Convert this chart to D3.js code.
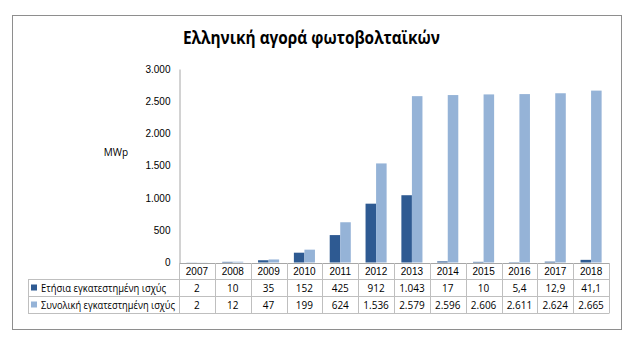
<!DOCTYPE html>
<html><head><meta charset="utf-8">
<script src="https://cdn.jsdelivr.net/npm/d3@7"></script>
<style>
html,body{margin:0;padding:0;background:#fff;}
svg{display:block;font-family:"Open Sans","Noto Sans",sans-serif;}
</style></head>
<body><svg id="c" width="634" height="337"></svg>
<script>
const title = "Ελληνική αγορά φωτοβολταϊκών";
const yAxisLabel = "MWp";
const years = ["2007","2008","2009","2010","2011","2012","2013","2014","2015","2016","2017","2018"];
const seriesNames = ["Ετήσια εγκατεστημένη ισχύς", "Συνολική εγκατεστημένη ισχύς"];
const annual = [2, 10, 35, 152, 425, 912, 1043, 17, 10, 5.4, 12.9, 41.1];
const cumulative = [2, 12, 47, 199, 624, 1536, 2579, 2596, 2606, 2611, 2624, 2665];
const yTicks = [0, 500, 1000, 1500, 2000, 2500, 3000];
const colors = ["#2E5A92", "#95B3D7"];

const svg = d3.select("#c");
const fmt = d3.formatLocale({decimal: ",", thousands: ".", grouping: [3], currency: ["", "€"]});
const intFmt = fmt.format(",.0f");
const valFmt = v => Number.isInteger(v) ? intFmt(v) : fmt.format(",.1f")(v);

// frame
svg.append("rect").attr("x", 12.5).attr("y", 15.5).attr("width", 609).attr("height", 314)
  .attr("fill", "#fff").attr("stroke", "#8E8E8E").attr("stroke-width", 1);

// title
svg.append("text").attr("x", 311.5).attr("y", 44).attr("text-anchor", "middle")
  .attr("font-size", 17).attr("font-weight", "bold").attr("fill", "#000")
  .attr("textLength", 257).attr("lengthAdjust", "spacingAndGlyphs").text(title);

const x = d3.scaleBand().domain(years).range([179, 609]).paddingInner(0).paddingOuter(0);
const xs = d3.scaleBand().domain([0, 1]).range([0, x.bandwidth()]).paddingInner(0).paddingOuter(0.7);
const y = d3.scaleLinear().domain([0, 3000]).range([262.5, 69]);

// bars
const data = [annual, cumulative];
data.forEach((vals, si) => {
  svg.append("g").selectAll("rect").data(vals).join("rect")
    .attr("x", (d, i) => x(years[i]) + xs(si))
    .attr("width", xs.bandwidth())
    .attr("y", d => y(d))
    .attr("height", d => y(0) - y(d))
    .attr("fill", colors[si]);
});

// y axis
const yAxis = d3.axisLeft(y).tickValues(yTicks).tickFormat(intFmt).tickSize(0).tickPadding(9);
const ga = svg.append("g").attr("transform", "translate(179.5,0)").call(yAxis);
ga.select(".domain").attr("stroke", "#A6A6A6");
ga.selectAll("text").attr("font-size", 10).attr("fill", "#000");

svg.append("text").attr("x", 116).attr("y", 156).attr("text-anchor", "middle")
  .attr("font-size", 10).attr("fill", "#000").text(yAxisLabel);

// data table
const rows = [263, 279.5, 296.5, 313.5];
const gridColor = "#BFBFBF";
const tg = svg.append("g");
tg.append("line").attr("x1", 179).attr("x2", 609).attr("y1", rows[0] + 0.5).attr("y2", rows[0] + 0.5).attr("stroke", "#A6A6A6");
[1, 2, 3].forEach(r => tg.append("line").attr("x1", 28).attr("x2", 609)
  .attr("y1", rows[r]).attr("y2", rows[r]).attr("stroke", gridColor));
const xEdges = years.map(yr => x(yr)).concat([609]);
xEdges.forEach(xv => tg.append("line").attr("x1", Math.round(xv) + 0.5).attr("x2", Math.round(xv) + 0.5)
  .attr("y1", rows[0]).attr("y2", rows[3]).attr("stroke", gridColor));
tg.append("line").attr("x1", 28.5).attr("x2", 28.5).attr("y1", rows[1]).attr("y2", rows[3]).attr("stroke", gridColor);

// year labels (category axis)
const xAxis = d3.axisBottom(x).tickSize(0).tickPadding(0);
const gx = svg.append("g").attr("transform", `translate(0,${rows[0]})`).call(xAxis);
gx.select(".domain").remove();
gx.selectAll("text").attr("font-size", 10).attr("fill", "#000").attr("dy", null).attr("y", 12);

// values + legend
const nameWidths = [125, 134];
data.forEach((vals, si) => {
  const yRow = rows[si + 1] + 12;
  tg.selectAll(null).data(vals).join("text")
    .attr("x", (d, i) => x(years[i]) + x.bandwidth() / 2)
    .attr("y", yRow).attr("text-anchor", "middle")
    .attr("font-size", 10).attr("fill", "#000").text(d => valFmt(d));
  tg.append("rect").attr("x", 31).attr("y", rows[si + 1] + 5).attr("width", 6).attr("height", 6).attr("fill", colors[si]);
  tg.append("text").attr("x", 41).attr("y", yRow).attr("font-size", 10).attr("fill", "#000")
    .attr("textLength", nameWidths[si]).attr("lengthAdjust", "spacingAndGlyphs").text(seriesNames[si]);
});
</script></body></html>
